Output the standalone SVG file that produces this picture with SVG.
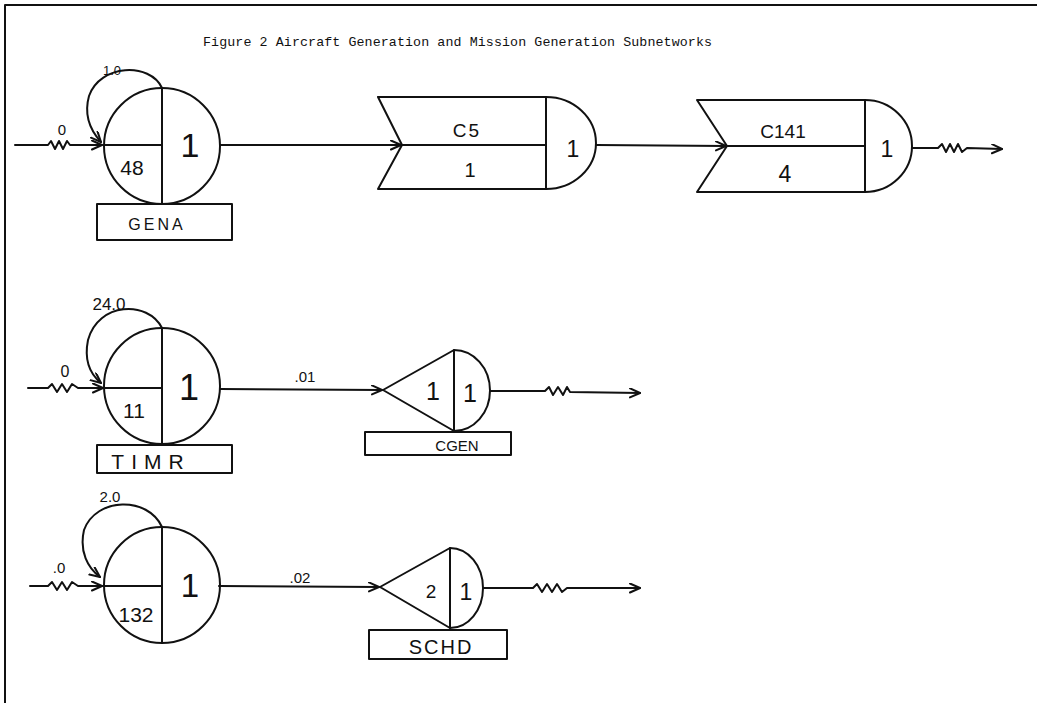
<svg xmlns="http://www.w3.org/2000/svg" width="1037" height="703" viewBox="0 0 1037 703">
<style>
.s{fill:none;stroke:#111;stroke-width:2;stroke-linejoin:round;stroke-linecap:round}
.t{font-family:"Liberation Sans",Arial,sans-serif;fill:#111;text-anchor:middle}
.title{font-family:"Liberation Mono","Courier New",monospace;font-size:13.3px;fill:#111}
</style>
<defs>
<marker id="ah" markerUnits="userSpaceOnUse" markerWidth="14" markerHeight="12" refX="11" refY="5" orient="auto">
<path d="M1,0.5 L11,5 L1,9.5" fill="none" stroke="#111" stroke-width="2" stroke-linejoin="round" stroke-linecap="round"/>
</marker>
</defs>
<rect width="1037" height="703" fill="#fff"/>
<g id="frame">
<path class="s" d="M5,703 L5,5 L1037,5"/>
</g>
<text class="title" x="203" y="46" textLength="509">Figure 2  Aircraft Generation and Mission Generation Subnetworks</text>

<g id="connectors">
<path class="s" marker-end="url(#ah)" d="M15,145 L48,145 L51,141 L55,149 L59,141 L63,149 L67,141 L70,145 L102,145"/>
<path class="s" marker-end="url(#ah)" d="M162,88 C150,62 100,64 89,96 C84,114 90,130 101,142"/>
<path class="s" marker-end="url(#ah)" d="M220,145 L401,145"/>
<path class="s" marker-end="url(#ah)" d="M596,145 L726,146"/>
<path class="s" marker-end="url(#ah)" d="M912,148 L938,148 L942,144 L946,152 L950,144 L954,152 L958,144 L962,152 L967,148 L1002,149"/>

<path class="s" marker-end="url(#ah)" d="M28,388 L48,388 L52,384 L57,392 L62,384 L67,392 L72,384 L78,388 L103,388"/>
<path class="s" marker-end="url(#ah)" d="M162,328 C148,300 98,302 88,340 C84,360 90,374 101,383"/>
<path class="s" marker-end="url(#ah)" d="M220,389 L382,390"/>
<path class="s" marker-end="url(#ah)" d="M490,391 L545,391 L549,387 L553,395 L558,387 L563,395 L567,387 L570,392 L640,393"/>

<path class="s" marker-end="url(#ah)" d="M30,586 L48,586 L52,582 L57,590 L62,582 L67,590 L72,582 L78,586 L102,586"/>
<path class="s" marker-end="url(#ah)" d="M162,527 C148,496 96,497 84,530 C79,552 88,568 100,577"/>
<path class="s" marker-end="url(#ah)" d="M219,586 L379,587"/>
<path class="s" marker-end="url(#ah)" d="M483,588 L533,588 L537,584 L542,592 L547,584 L552,592 L557,584 L562,592 L567,588 L640,588"/>
</g>

<g id="GENA">
<circle class="s" cx="162" cy="146" r="58"/>
<path class="s" d="M162,88 L162,204 M104,145 L162,145"/>
<rect class="s" x="97" y="204" width="135" height="36"/>
<text class="t" x="157" y="230" font-size="16" letter-spacing="3">GENA</text>
<text class="t" x="132" y="175" font-size="21">48</text>
<text class="t" x="190" y="157" font-size="34">1</text>
<text class="t" x="112" y="75" font-size="13">1.0</text>
<text class="t" x="62" y="135" font-size="15">0</text>
</g>

<g id="C5">
<path class="s" d="M378,97 L546,97 L546,189 L378,189 L402,145 Z"/>
<path class="s" d="M402,145 L546,145"/>
<path class="s" d="M546,97 A50,46 0 0 1 546,189"/>
<text class="t" x="467" y="137" font-size="19" letter-spacing="2">C5</text>
<text class="t" x="470" y="177" font-size="20">1</text>
<text class="t" x="573" y="157" font-size="23">1</text>
</g>

<g id="C141">
<path class="s" d="M697,100 L865,100 L865,192 L697,192 L727,146 Z"/>
<path class="s" d="M727,146 L865,146"/>
<path class="s" d="M865,100 A47,46 0 0 1 865,192"/>
<text class="t" x="783" y="138" font-size="19">C141</text>
<text class="t" x="785" y="182" font-size="23">4</text>
<text class="t" x="887" y="157" font-size="23">1</text>
</g>

<g id="TIMR">
<circle class="s" cx="162" cy="386" r="58"/>
<path class="s" d="M162,328 L162,444 M104,388 L162,388"/>
<rect class="s" x="97" y="445" width="135" height="28"/>
<text class="t" x="151" y="469" font-size="21" letter-spacing="7">TIMR</text>
<text class="t" x="134" y="418" font-size="21">11</text>
<text class="t" x="189" y="400" font-size="36">1</text>
<text class="t" x="109" y="310" font-size="17">24.0</text>
<text class="t" x="65" y="377" font-size="16">0</text>
<text class="t" x="305" y="382" font-size="15">.01</text>
</g>

<g id="CGEN">
<path class="s" d="M454,350 L383,390 L454,431 Z"/>
<path class="s" d="M454,350 A36,40.5 0 0 1 454,431"/>
<rect class="s" x="365" y="432" width="146" height="23"/>
<text class="t" x="457" y="451" font-size="15">CGEN</text>
<text class="t" x="433" y="400" font-size="25">1</text>
<text class="t" x="470" y="402" font-size="25">1</text>
</g>

<g id="SCHD">
<circle class="s" cx="162" cy="585" r="58"/>
<path class="s" d="M162,527 L162,643 M103,586 L162,586"/>
<path class="s" d="M450,548 L380,587 L450,628 Z"/>
<path class="s" d="M450,548 A33,40 0 0 1 450,628"/>
<rect class="s" x="369" y="630" width="138" height="29"/>
<text class="t" x="441" y="654" font-size="20" letter-spacing="2">SCHD</text>
<text class="t" x="136" y="622" font-size="21">132</text>
<text class="t" x="190" y="597" font-size="33">1</text>
<text class="t" x="110" y="502" font-size="15">2.0</text>
<text class="t" x="59" y="573" font-size="15">.0</text>
<text class="t" x="300" y="583" font-size="15">.02</text>
<text class="t" x="431" y="598" font-size="19">2</text>
<text class="t" x="466" y="600" font-size="23">1</text>
</g>
</svg>
